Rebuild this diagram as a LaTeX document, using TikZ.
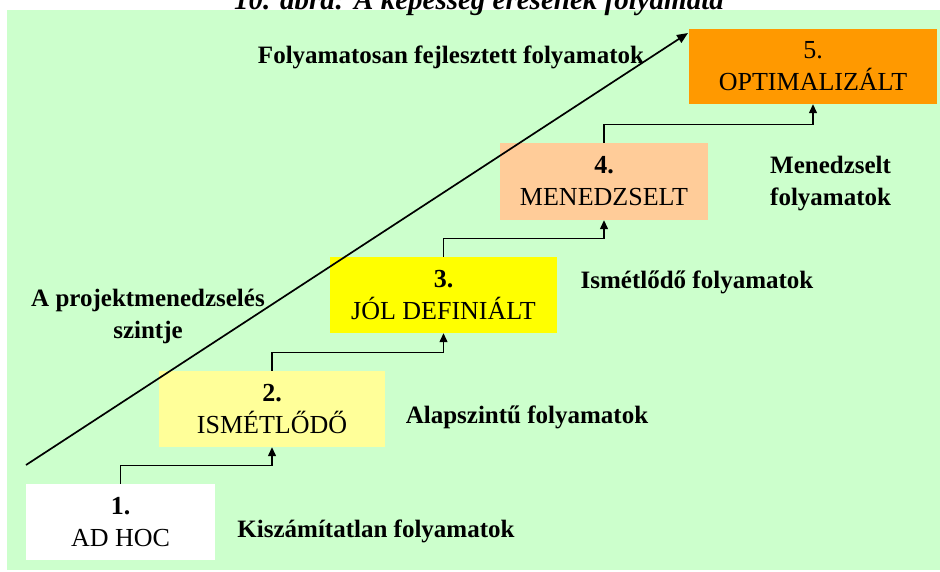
\documentclass[tikz,border=0pt]{standalone}
\usepackage{fontspec}
\setmainfont{Liberation Serif}
\usetikzlibrary{arrows.meta}
\definecolor{bggreen}{HTML}{CCFFCC}
\definecolor{lvlone}{HTML}{FFFFFF}
\definecolor{lvltwo}{HTML}{FFFF99}
\definecolor{lvlthree}{HTML}{FFFF00}
\definecolor{lvlfour}{HTML}{FFCC99}
\definecolor{lvlfive}{HTML}{FF9900}
\begin{document}
\begin{tikzpicture}[x=1pt,y=-1pt,
  level/.style={draw=none, inner sep=0pt, align=center,
    minimum height=76pt, font=\fontsize{26}{32}\selectfont},
  label/.style={inner sep=0pt, font=\fontsize{25}{32}\selectfont\bfseries},
  conn/.style={line width=1.3pt, -{Triangle[length=9pt,width=8pt]}},
  trend/.style={line width=1.7pt, -{Triangle[length=11pt,width=9pt]}}]
  \useasboundingbox (0,0) rectangle (940,571);
  \clip (0,0) rectangle (940,571);
  % background panel
  \fill[bggreen] (7,10) rectangle (940,570);
  % figure caption, partly cut off at the top
  \node[anchor=base, inner sep=0pt, font=\fontsize{29}{32}\selectfont\bfseries\itshape] (title) at (479,9) {10. ábra: A képesség érésének folyamata};
  % maturity levels
  \node[level, fill=lvlone, minimum width=189pt] (b1) at (120.5,522) {\textbf{1.}\\AD HOC};
  \node[level, fill=lvltwo, minimum width=226pt] (b2) at (272,409) {\textbf{2.}\\ISMÉTLŐDŐ};
  \node[level, fill=lvlthree, minimum width=227pt] (b3) at (443.5,295) {\textbf{3.}\\JÓL DEFINIÁLT};
  \node[level, fill=lvlfour, minimum width=208pt, minimum height=77pt] (b4) at (604,181.5) {\textbf{4.}\\MENEDZSELT};
  \node[level, fill=lvlfive, minimum width=248pt, minimum height=75pt] (b5) at (813,66.5) {5.\\OPTIMALIZÁLT};
  % steps between the levels
  \draw[conn] (b1.north) -- ++(0,-18) -| (b2.south);
  \draw[conn] (b2.north) -- ++(0,-18) -| (b3.south);
  \draw[conn] (b3.north) -- ++(0,-18) -| (b4.south);
  \draw[conn] (b4.north) -- ++(0,-18) -| (b5.south);
  % rising project management level
  \coordinate (ls) at (26,465);
  \coordinate (le) at (688,33);
  \draw[trend] (ls) -- (le);
  % descriptions
  \node[label, anchor=base] (t5) at (451,63) {Folyamatosan fejlesztett folyamatok};
  \node[label, align=left, anchor=west] (t4) at (770,184) {Menedzselt\\folyamatok};
  \node[label, anchor=base] (t3) at (697,288) {Ismétlődő folyamatok};
  \node[label, align=center] (tp) at (148,316) {A projektmenedzselés\\szintje};
  \node[label, anchor=base] (t2) at (527,423) {Alapszintű folyamatok};
  \node[label, anchor=base] (t1) at (376,537) {Kiszámítatlan folyamatok};
\end{tikzpicture}
\end{document}
